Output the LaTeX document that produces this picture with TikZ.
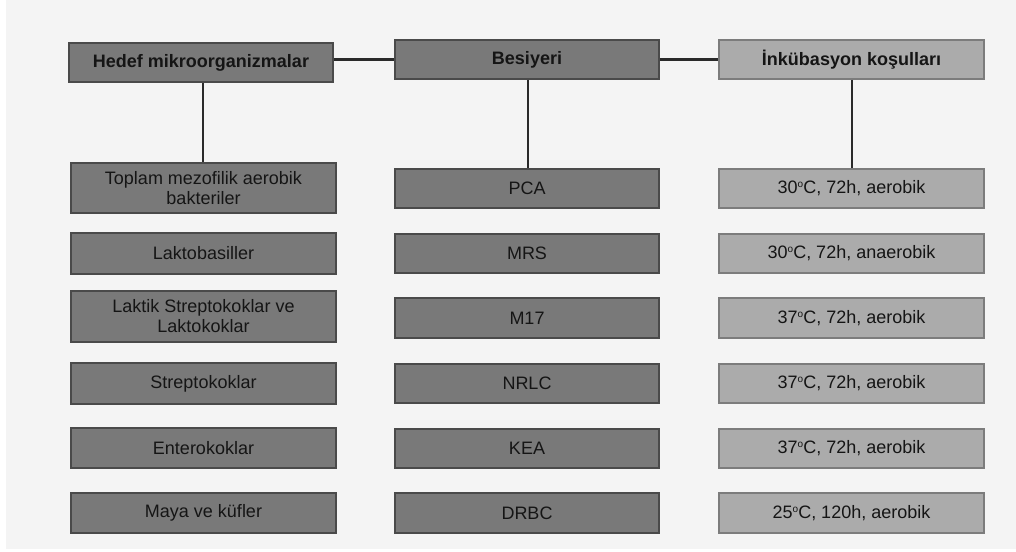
\documentclass[tikz,border=0pt]{standalone}
\usepackage{fontspec}
\setmainfont{Liberation Sans}
\definecolor{pagebg}{HTML}{F4F4F4}
\definecolor{darkfill}{HTML}{797979}
\definecolor{darkedge}{HTML}{4A4A4A}
\definecolor{lightfill}{HTML}{ABABAB}
\definecolor{lightedge}{HTML}{7C7C7C}
\definecolor{txt}{HTML}{151515}
\definecolor{linkcol}{HTML}{2A2A2A}
% small raised "o" used as degree mark
\newcommand{\degmark}{\raisebox{0.62ex}{\fontsize{10}{10}\selectfont o}}
\begin{document}
\begin{tikzpicture}[x=1pt,y=-1pt,
  cell/.style={draw, line width=1.6pt, rectangle, inner sep=0pt, text=txt,
    font=\fontsize{18}{20}\selectfont, align=center},
  darkcell/.style={cell, fill=darkfill, draw=darkedge},
  lightcell/.style={cell, fill=lightfill, draw=lightedge},
  head/.style={font=\fontsize{18}{20}\selectfont\bfseries},
  link/.style={draw=linkcol, line width=2pt}]
% page and background panel
\useasboundingbox (0,0) rectangle (1016,551);
\fill[white] (0,0) rectangle (1016,551);
\fill[pagebg] (6,0) rectangle (1016,549);

% column headers
\node[darkcell, head, minimum width=264pt, minimum height=39pt] (h1) at (201,62.5) {Hedef mikroorganizmalar};
\node[darkcell, head, minimum width=264pt, minimum height=39pt] (h2) at (527,59.5) {Besiyeri};
\node[lightcell, head, minimum width=265pt, minimum height=39pt] (h3) at (851.5,59.5) {İnkübasyon koşulları};

% target microorganisms
\begin{scope}[every node/.style={darkcell, minimum width=265pt}]
\node[minimum height=50pt] (a1) at (203.5,188) {Toplam mezofilik aerobik\\bakteriler};
\node[minimum height=41pt] (a2) at (203.5,253.5) {Laktobasiller};
\node[minimum height=51pt] (a3) at (203.5,316.5) {Laktik Streptokoklar ve\\Laktokoklar};
\node[minimum height=41pt] (a4) at (203.5,383.5) {Streptokoklar};
\node[minimum height=40pt] (a5) at (203.5,448) {Enterokoklar};
\node[minimum height=40pt] (a6) at (203.5,513) {Maya ve küfler};
\end{scope}

% media
\begin{scope}[every node/.style={darkcell, minimum width=264pt, minimum height=39.5pt}]
\node (b1) at (527,188.5) {PCA};
\node (b2) at (527,253.5) {MRS};
\node (b3) at (527,318) {M17};
\node (b4) at (527,383.5) {NRLC};
\node (b5) at (527,448.5) {KEA};
\node (b6) at (527,513) {DRBC};
\end{scope}

% incubation conditions
\begin{scope}[every node/.style={lightcell, minimum width=265pt, minimum height=39.5pt}]
\node (c1) at (851.5,188.5) {30\degmark C, 72h, aerobik};
\node (c2) at (851.5,253.5) {30\degmark C, 72h, anaerobik};
\node (c3) at (851.5,318) {37\degmark C, 72h, aerobik};
\node (c4) at (851.5,383.5) {37\degmark C, 72h, aerobik};
\node (c5) at (851.5,448.5) {37\degmark C, 72h, aerobik};
\node (c6) at (851.5,513) {25\degmark C, 120h, aerobik};
\end{scope}

% connectors
\draw[link] (h2.west -| h1.east) -- (h2.west);
\draw[link] (h2.east) -- (h3.west);
\draw[link] ([xshift=1.5pt]h1.south) -- ([xshift=1.5pt]h1.south |- a1.north);
\draw[link] ([xshift=1pt]h2.south) -- ([xshift=1pt]h2.south |- b1.north);
\draw[link] (h3.south) -- (h3.south |- c1.north);
\end{tikzpicture}
\end{document}
